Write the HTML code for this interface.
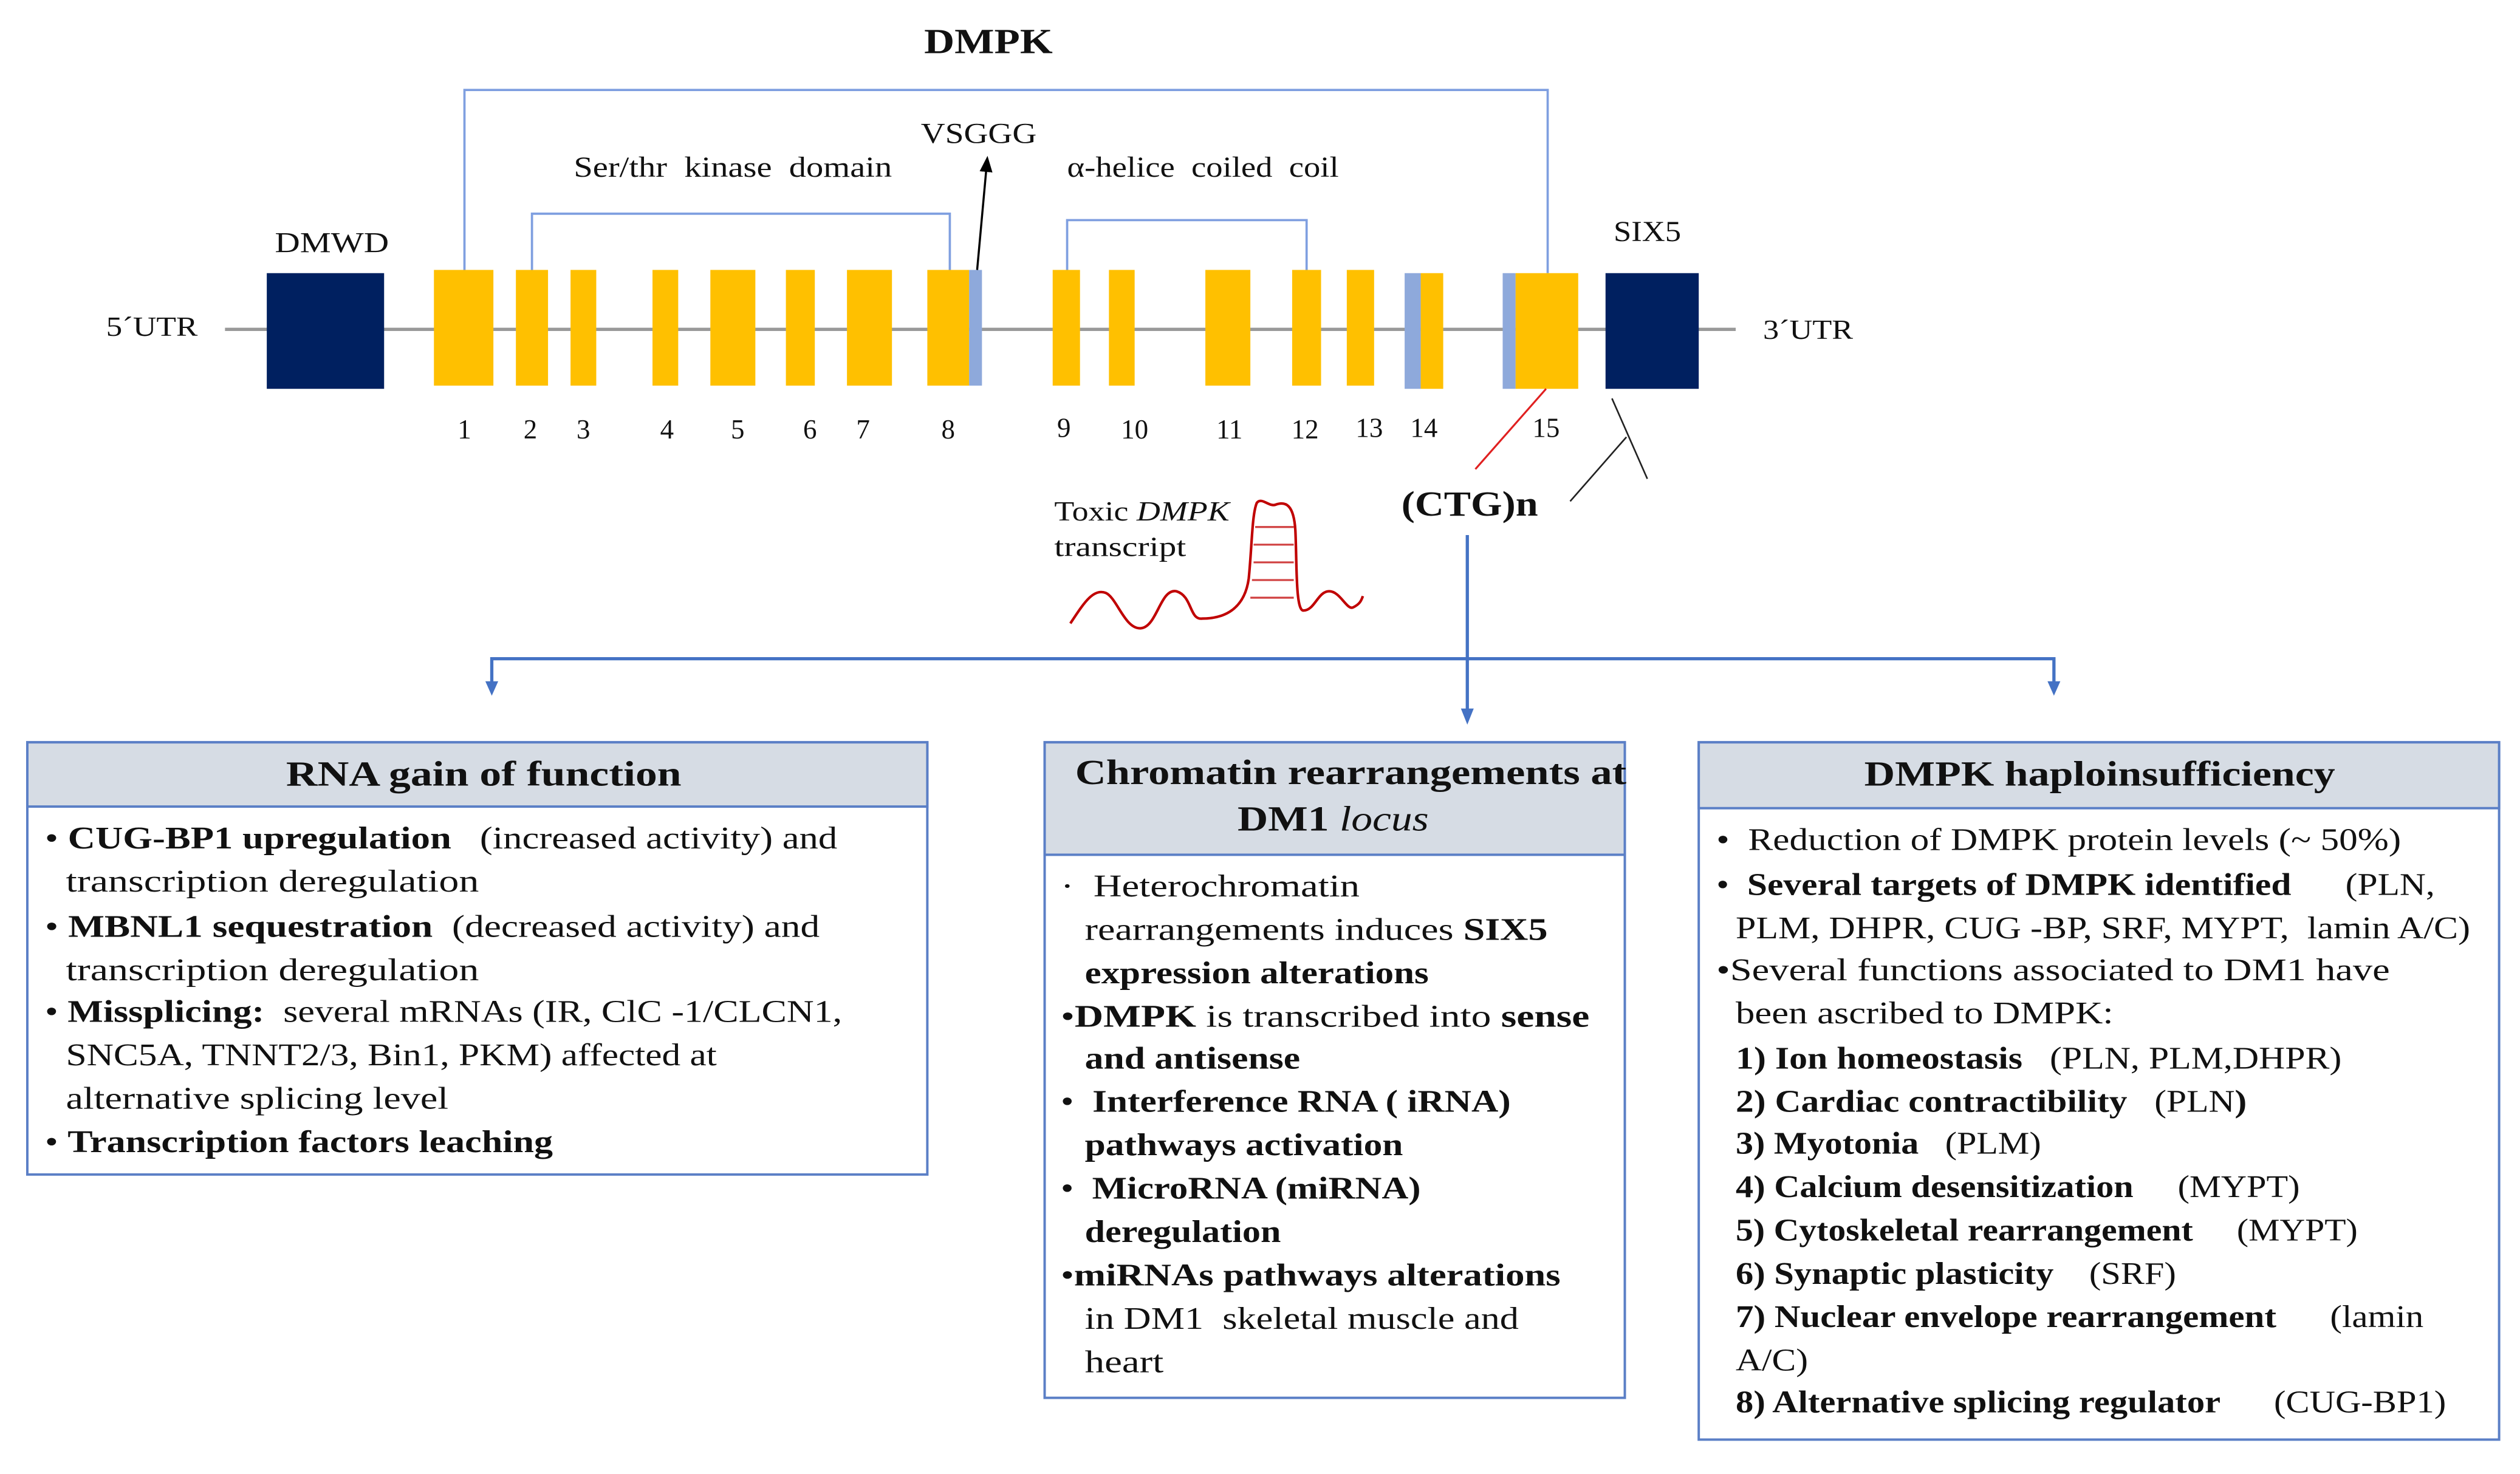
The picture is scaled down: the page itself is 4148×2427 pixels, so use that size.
<!DOCTYPE html>
<html><head><meta charset="utf-8"><style>
html,body{margin:0;padding:0;background:#fff;}
svg{display:block;}
text{font-family:"Liberation Serif",serif;fill:#111;}
.b{font-weight:bold;}
</style></head><body>
<svg width="4148" height="2427" viewBox="0 0 1568 917.4" preserveAspectRatio="none" xmlns="http://www.w3.org/2000/svg">
<defs>
<marker id="ak" markerWidth="10" markerHeight="10" refX="5" refY="5" orient="auto" markerUnits="userSpaceOnUse"><path d="M0,1 L10,5 L0,9 z" fill="#000"/></marker>
</defs>
<rect width="1568" height="917.4" fill="#fff"/>
<text x="575" y="33" font-size="22" class="b" textLength="80" lengthAdjust="spacingAndGlyphs">DMPK</text>
<g stroke="#7f9fe0" stroke-width="1.4" fill="none">
<polyline points="289,168 289,56 963,56 963,170"/>
<polyline points="331,168 331,133 591,133 591,168"/>
<polyline points="664,168 664,137 813,137 813,168"/>
</g>
<text x="357" y="110" font-size="18" textLength="198" lengthAdjust="spacingAndGlyphs">Ser/thr&#160;&#160;kinase&#160;&#160;domain</text>
<text x="664" y="110" font-size="18" textLength="169" lengthAdjust="spacingAndGlyphs">α-helice&#160;&#160;coiled&#160;&#160;coil</text>
<text x="573" y="89" font-size="18" textLength="72" lengthAdjust="spacingAndGlyphs">VSGGG</text>
<line x1="140" y1="205" x2="1080" y2="205" stroke="#999" stroke-width="2"/>
<rect x="166" y="170" width="73" height="72" fill="#002060"/>
<rect x="999" y="170" width="58" height="72" fill="#002060"/>
<g fill="#FFC000">
<rect x="270" y="168" width="37" height="72"/>
<rect x="321" y="168" width="20" height="72"/>
<rect x="355" y="168" width="16" height="72"/>
<rect x="406" y="168" width="16" height="72"/>
<rect x="442" y="168" width="28" height="72"/>
<rect x="489" y="168" width="18" height="72"/>
<rect x="527" y="168" width="28" height="72"/>
<rect x="577" y="168" width="26" height="72"/>
<rect x="655" y="168" width="17" height="72"/>
<rect x="690" y="168" width="16" height="72"/>
<rect x="750" y="168" width="28" height="72"/>
<rect x="804" y="168" width="18" height="72"/>
<rect x="838" y="168" width="17" height="72"/>
<rect x="884" y="170" width="14" height="72"/>
<rect x="943" y="170" width="39" height="72"/>
</g>
<g fill="#8EA9DB">
<rect x="603" y="168" width="8" height="72"/>
<rect x="874" y="170" width="10" height="72"/>
<rect x="935" y="170" width="8" height="72"/>
</g>
<line x1="608" y1="168" x2="614" y2="102" stroke="#000" stroke-width="1.3" marker-end="url(#ak)"/>
<text x="171" y="157" font-size="18" textLength="71" lengthAdjust="spacingAndGlyphs">DMWD</text>
<text x="1004" y="150" font-size="18" textLength="42" lengthAdjust="spacingAndGlyphs">SIX5</text>
<text x="66" y="209" font-size="17" textLength="57" lengthAdjust="spacingAndGlyphs">5´UTR</text>
<text x="1097" y="211" font-size="17" textLength="56" lengthAdjust="spacingAndGlyphs">3´UTR</text>
<g font-size="17" text-anchor="middle">
<text x="289" y="273">1</text><text x="330" y="273">2</text><text x="363" y="273">3</text>
<text x="415" y="273">4</text><text x="459" y="273">5</text><text x="504" y="273">6</text>
<text x="537" y="273">7</text><text x="590" y="273">8</text><text x="662" y="272">9</text>
<text x="706" y="273">10</text><text x="765" y="273">11</text><text x="812" y="273">12</text>
<text x="852" y="272">13</text><text x="886" y="272">14</text><text x="962" y="272">15</text>
</g>
<line x1="962" y1="242" x2="918" y2="292" stroke="#e02020" stroke-width="1.2"/>
<line x1="1003" y1="248" x2="1025" y2="298" stroke="#222" stroke-width="1"/>
<line x1="1012" y1="272" x2="977" y2="312" stroke="#222" stroke-width="1"/>
<text x="872" y="321" font-size="22" class="b" textLength="85" lengthAdjust="spacingAndGlyphs">(CTG)n</text>
<text x="656" y="324" font-size="17" textLength="109" lengthAdjust="spacingAndGlyphs">Toxic <tspan font-style="italic">DMPK</tspan></text>
<text x="656" y="346" font-size="17" textLength="82" lengthAdjust="spacingAndGlyphs">transcript</text>
<path d="M666,388 C674,376 680,366 688,369 C695,372 700,392 710,391 C720,390 722,366 732,368 C742,371 740,386 748,385 C758,385 774,382 777,360 C779,340 779,320 782,313 C785,309 790,316 794,314 C800,312 805,314 806,330 C807,350 806,380 811,380 C818,380 820,368 827,368 C834,368 838,380 842,378 C846,376 847,374 848,371" fill="none" stroke="#c00000" stroke-width="1.6"/>
<g stroke="#d04040" stroke-width="1.2">
<line x1="781" y1="328" x2="805" y2="328"/><line x1="780" y1="339" x2="805" y2="339"/>
<line x1="780" y1="350" x2="805" y2="350"/><line x1="779" y1="361" x2="805" y2="361"/>
<line x1="778" y1="372" x2="805" y2="372"/>
</g>
<g stroke="#4472C4" stroke-width="2" fill="none">
<line x1="913" y1="333" x2="913" y2="443"/>
<polyline points="306,428 306,410 1278,410 1278,428"/>
</g>
<path d="M302,424 L310,424 L306,433 z" fill="#4472C4"/>
<path d="M1274,424 L1282,424 L1278,433 z" fill="#4472C4"/>
<path d="M909,441 L917,441 L913,451 z" fill="#4472C4"/>
<g stroke="#5B7FC6" stroke-width="1.5">
<rect x="17" y="462" width="560" height="269" fill="#fff"/>
<rect x="17" y="462" width="560" height="40" fill="#D6DCE4"/>
<rect x="650" y="462" width="361" height="408" fill="#fff"/>
<rect x="650" y="462" width="361" height="70" fill="#D6DCE4"/>
<rect x="1057" y="462" width="498" height="434" fill="#fff"/>
<rect x="1057" y="462" width="498" height="41" fill="#D6DCE4"/>
</g>
<g font-size="22" class="b">
<text x="178" y="489" textLength="246" lengthAdjust="spacingAndGlyphs">RNA gain of function</text>
<text x="669" y="488" textLength="343" lengthAdjust="spacingAndGlyphs">Chromatin rearrangements at</text>
<text x="770" y="517" textLength="119" lengthAdjust="spacingAndGlyphs">DM1 <tspan font-style="italic" font-weight="normal">locus</tspan></text>
<text x="1160" y="489" textLength="293" lengthAdjust="spacingAndGlyphs">DMPK haploinsufficiency</text>
</g>
<g font-size="19.5">
<text x="28" y="528" textLength="493" lengthAdjust="spacingAndGlyphs">• <tspan class="b">CUG-BP1 upregulation</tspan>&#160;&#160; (increased activity) and</text>
<text x="41" y="555" textLength="257" lengthAdjust="spacingAndGlyphs">transcription deregulation</text>
<text x="28" y="583" textLength="482" lengthAdjust="spacingAndGlyphs">• <tspan class="b">MBNL1 sequestration</tspan>&#160; (decreased activity) and</text>
<text x="41" y="610" textLength="257" lengthAdjust="spacingAndGlyphs">transcription deregulation</text>
<text x="28" y="636" textLength="496" lengthAdjust="spacingAndGlyphs">• <tspan class="b">Missplicing:</tspan>&#160; several mRNAs (IR, ClC -1/CLCN1,</text>
<text x="41" y="663" textLength="405" lengthAdjust="spacingAndGlyphs">SNC5A, TNNT2/3, Bin1, PKM) affected at</text>
<text x="41" y="690" textLength="238" lengthAdjust="spacingAndGlyphs">alternative splicing level</text>
<text x="28" y="717" textLength="316" lengthAdjust="spacingAndGlyphs">• <tspan class="b">Transcription factors leaching</tspan></text>

<text x="660" y="558" textLength="186" lengthAdjust="spacingAndGlyphs">·&#160; Heterochromatin</text>
<text x="675" y="585" textLength="288" lengthAdjust="spacingAndGlyphs">rearrangements induces <tspan class="b">SIX5</tspan></text>
<text x="675" y="612" class="b" textLength="214" lengthAdjust="spacingAndGlyphs">expression alterations</text>
<text x="660" y="639" textLength="329" lengthAdjust="spacingAndGlyphs">•<tspan class="b">DMPK</tspan> is transcribed into <tspan class="b">sense</tspan></text>
<text x="675" y="665" class="b" textLength="134" lengthAdjust="spacingAndGlyphs">and antisense</text>
<text x="660" y="692" textLength="280" lengthAdjust="spacingAndGlyphs">•&#160; <tspan class="b">Interference RNA ( iRNA)</tspan></text>
<text x="675" y="719" class="b" textLength="198" lengthAdjust="spacingAndGlyphs">pathways activation</text>
<text x="660" y="746" textLength="224" lengthAdjust="spacingAndGlyphs">•&#160; <tspan class="b">MicroRNA (miRNA)</tspan></text>
<text x="675" y="773" class="b" textLength="122" lengthAdjust="spacingAndGlyphs">deregulation</text>
<text x="660" y="800" textLength="311" lengthAdjust="spacingAndGlyphs">•<tspan class="b">miRNAs pathways alterations</tspan></text>
<text x="675" y="827" textLength="270" lengthAdjust="spacingAndGlyphs">in DM1&#160; skeletal muscle and</text>
<text x="675" y="854" textLength="49" lengthAdjust="spacingAndGlyphs">heart</text>

<text x="1068" y="529" textLength="426" lengthAdjust="spacingAndGlyphs">•&#160; Reduction of DMPK protein levels (~ 50%)</text>
<text x="1068" y="557" textLength="447" lengthAdjust="spacingAndGlyphs">•&#160; <tspan class="b">Several targets of DMPK identified</tspan>&#160;&#160;&#160;&#160;&#160; (PLN,</text>
<text x="1080" y="584" textLength="457" lengthAdjust="spacingAndGlyphs">PLM, DHPR, CUG -BP, SRF, MYPT,&#160; lamin A/C)</text>
<text x="1068" y="610" textLength="419" lengthAdjust="spacingAndGlyphs">•Several functions associated to DM1 have</text>
<text x="1080" y="637" textLength="235" lengthAdjust="spacingAndGlyphs">been ascribed to DMPK:</text>
<text x="1080" y="665" textLength="377" lengthAdjust="spacingAndGlyphs"><tspan class="b">1) Ion homeostasis</tspan>&#160;&#160; (PLN, PLM,DHPR)</text>
<text x="1080" y="692" textLength="318" lengthAdjust="spacingAndGlyphs"><tspan class="b">2) Cardiac contractibility</tspan>&#160;&#160; (PLN<tspan class="b">)</tspan></text>
<text x="1080" y="718" textLength="190" lengthAdjust="spacingAndGlyphs"><tspan class="b">3) Myotonia</tspan>&#160;&#160; (PLM)</text>
<text x="1080" y="745" textLength="351" lengthAdjust="spacingAndGlyphs"><tspan class="b">4) Calcium desensitization</tspan>&#160;&#160;&#160;&#160; (MYPT)</text>
<text x="1080" y="772" textLength="387" lengthAdjust="spacingAndGlyphs"><tspan class="b">5) Cytoskeletal rearrangement</tspan>&#160;&#160;&#160;&#160; (MYPT)</text>
<text x="1080" y="799" textLength="274" lengthAdjust="spacingAndGlyphs"><tspan class="b">6) Synaptic plasticity</tspan>&#160;&#160;&#160; (SRF)</text>
<text x="1080" y="826" textLength="428" lengthAdjust="spacingAndGlyphs"><tspan class="b">7) Nuclear envelope rearrangement</tspan>&#160;&#160;&#160;&#160;&#160; (lamin</text>
<text x="1080" y="853" textLength="45" lengthAdjust="spacingAndGlyphs">A/C)</text>
<text x="1080" y="879" textLength="442" lengthAdjust="spacingAndGlyphs"><tspan class="b">8) Alternative splicing regulator</tspan>&#160;&#160;&#160;&#160;&#160; (CUG-BP1)</text>
</g>
</svg>
</body></html>
